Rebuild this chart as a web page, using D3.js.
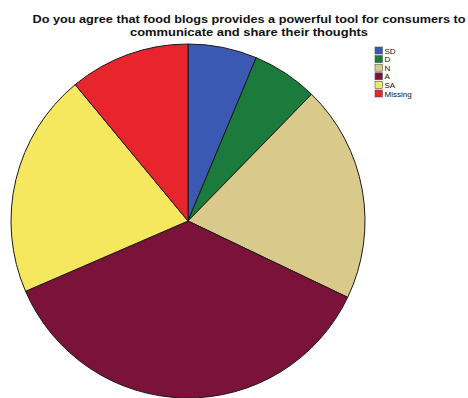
<!DOCTYPE html>
<html>
<head>
<meta charset="utf-8">
<script src="https://cdn.jsdelivr.net/npm/d3@7"></script>
<style>
  html, body { margin: 0; padding: 0; background: #fff; }
  svg { display: block; }
</style>
</head>
<body>
<svg id="chart" width="468" height="398"></svg>
<script>
// Responses to the survey question (percent of respondents)
const categories = ["SD", "D", "N", "A", "SA", "Missing"];
const values = [6.3, 6.0, 19.8, 36.4, 20.5, 11.0];
const colors = ["#3b58b2", "#1a7b3c", "#d9c98a", "#7b1239", "#f6e85e", "#e8242c"];
const titleLines = [
  "Do you agree that food blogs provides a powerful tool for consumers to",
  "communicate and share their thoughts"
];
const titleWidths = [433, 238];

const svg = d3.select("#chart");

const cx = 188, cy = 221, radius = 177;

const color = d3.scaleOrdinal().domain(categories).range(colors);

const pie = d3.pie().sort(null).value(d => d.value);
const arc = d3.arc().innerRadius(0).outerRadius(radius);

const data = categories.map((c, i) => ({ category: c, value: values[i] }));

svg.append("g")
  .attr("transform", `translate(${cx},${cy})`)
  .selectAll("path")
  .data(pie(data))
  .join("path")
  .attr("d", arc)
  .attr("fill", d => color(d.data.category))
  .attr("stroke", "#1a1a1a")
  .attr("stroke-width", 1)
  .attr("stroke-linejoin", "round");

// Title, two centred lines
svg.append("g")
  .selectAll("text")
  .data(titleLines)
  .join("text")
  .attr("x", 249)
  .attr("y", (d, i) => 23 + i * 12.5)
  .attr("text-anchor", "middle")
  .attr("font-family", "Liberation Sans, Arial, sans-serif")
  .attr("font-weight", "bold")
  .attr("font-size", 11.5)
  .attr("textLength", (d, i) => titleWidths[i])
  .attr("lengthAdjust", "spacingAndGlyphs")
  .attr("fill", "#111")
  .text(d => d);

// Legend
const legend = svg.append("g")
  .attr("transform", "translate(375,47)")
  .selectAll("g")
  .data(categories)
  .join("g")
  .attr("transform", (d, i) => `translate(0,${i * 8.6})`);

legend.append("rect")
  .attr("width", 7.5)
  .attr("height", 7)
  .attr("fill", d => color(d))
  .attr("stroke", "#555")
  .attr("stroke-width", 0.6);

legend.append("text")
  .attr("x", 9.5)
  .attr("y", 6.5)
  .attr("font-family", "Liberation Sans Narrow, Liberation Sans, Arial, sans-serif")
  .attr("font-size", 8)
  .attr("fill", "#111")
  .text(d => d);
</script>
</body>
</html>
